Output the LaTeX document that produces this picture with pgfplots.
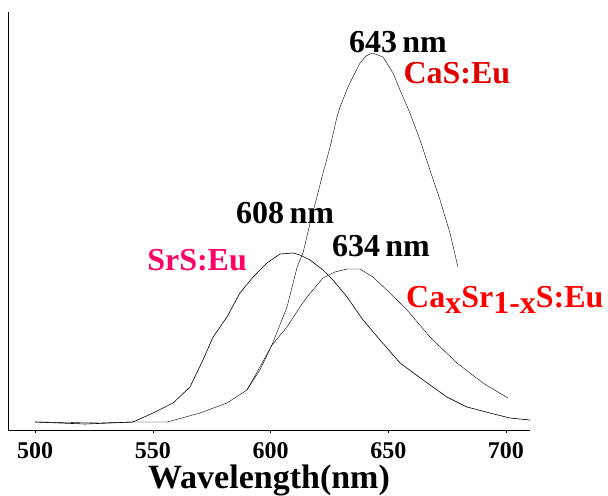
\documentclass[border=0pt]{standalone}
\usepackage{fontspec}
\setmainfont{Liberation Serif}
\usepackage{pgfplots}
\pgfplotsset{compat=1.18}
\definecolor{casred}{HTML}{E00000}
\definecolor{srspink}{HTML}{FF0066}
\definecolor{mixred}{HTML}{FF0000}
\newcommand{\lbl}[1]{\fontsize{32}{34}\selectfont\bfseries #1}
\begin{document}
\begin{tikzpicture}
\begin{axis}[
  scale only axis,
  width=522pt, height=418pt,
  xmin=488.5, xmax=710.2,
  ymin=0, ymax=418,
  axis x line*=bottom,
  axis y line*=left,
  axis line style={-, line width=0.8pt},
  ytick=\empty,
  xtick={500,550,600,650,700},
  tick align=outside,
  major tick length=3pt,
  tick style={line width=0.5pt, black},
  xticklabel style={font=\fontsize{24}{26}\selectfont\bfseries, inner sep=0pt, yshift=-9pt},
  /pgf/number format/assume math mode=true,
  xlabel={Wavelength(nm)},
  xlabel style={font=\fontsize{34}{36}\selectfont\bfseries, inner sep=0pt, yshift=-6pt},
  cycle list={{black, line width=0.6pt, no marks}},
  clip=false,
]

% CaS:Eu
\addplot coordinates {
  (590.0,40) (595.5,63) (600.6,85) (607.0,123) (611.3,163) (613.8,177)
  (616.8,207) (619.7,233) (622.3,257) (625.3,283) (628.2,313) (629.5,323)
  (632.9,343) (635.0,353) (638.0,367) (640.6,374) (643.1,377) (645.6,375)
  (647.8,373) (652.0,357) (655.0,340) (659.2,317) (663.5,290) (667.7,260)
  (672.0,230) (676.2,197) (679.6,163)
};

% SrS:Eu
\addplot coordinates {
  (500,8) (510.6,7) (521.2,6) (531.8,7) (541.6,8) (550.1,17) (558.6,27)
  (565.8,43) (571.3,70) (575.6,93) (581.5,113) (587.0,137) (592.6,153)
  (598.5,167) (604.0,176) (609.6,177) (612.5,175) (616.8,170) (622.3,160)
  (626.5,150) (632.5,133) (639.3,110) (646.5,90) (655.0,67) (664.8,50)
  (674.9,33) (683.4,23) (693.2,17) (701.7,12) (710.2,10)
};

% CaxSr1-xS:Eu
\addplot coordinates {
  (500,8) (527.6,7) (541.6,8) (556.1,8) (570.1,17) (581.5,27) (590.0,40)
  (595.5,60) (600.6,85) (607.0,103) (612.5,123) (615.5,133) (622.3,152)
  (627.4,158) (632.5,161) (638.0,161) (643.5,153) (650.7,137) (658.0,120)
  (667.7,93) (679.2,67) (690.2,47) (700.8,32)
};

\node at (axis cs:654.1,388) {\lbl{643\,nm}};
\node[anchor=west, text=casred] at (axis cs:655.0,357) {\lbl{CaS:Eu}};
\node at (axis cs:606.2,217) {\lbl{608\,nm}};
\node[text=srspink] at (axis cs:568.8,170) {\lbl{SrS:Eu}};
\node at (axis cs:646.9,184) {\lbl{634\,nm}};
\node[anchor=west, text=mixred, inner sep=1pt] at (axis cs:657.1,130)
  {\lbl{Ca\raisebox{-0.2em}{x}Sr\raisebox{-0.2em}{1-x}S:Eu}};
\end{axis}
\path (current axis.south west) ++(-8pt,-63pt) coordinate (bl);
\path (current axis.north east) ++(78pt,12pt) coordinate (tr);
\useasboundingbox (bl) rectangle (tr);
\end{tikzpicture}
\end{document}
